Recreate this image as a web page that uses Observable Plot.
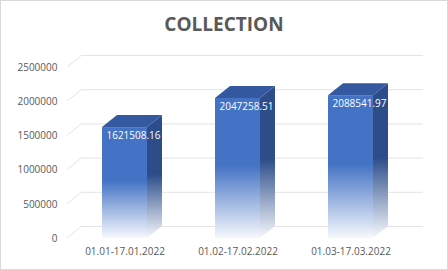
<!DOCTYPE html>
<html>
<head>
<meta charset="utf-8">
<script src="https://cdn.jsdelivr.net/npm/d3@7"></script>
<script src="https://cdn.jsdelivr.net/npm/@observablehq/plot@0.6"></script>
<style>
  html, body { margin: 0; padding: 0; background: #fff; }
  #chart { position: relative; width: 448px; height: 270px; overflow: hidden; font-family: "Open Sans", sans-serif; }
  #chart svg { position: absolute; left: 0; top: 0; }
  #title { position: absolute; left: 0; right: 0; top: 10px; text-align: center; font-size: 19px; font-weight: 700; color: #595959; line-height: 28px; }
  #frame { position: absolute; inset: 0; border: 1px solid #d9d9d9; pointer-events: none; }
</style>
</head>
<body>
<div id="chart">
  <div id="title">COLLECTION</div>
  <div id="frame"></div>
</div>
<script>
// Collection totals per reporting period
const periods = ["01.01-17.01.2022", "01.02-17.02.2022", "01.03-17.03.2022"];
const collected = [1621508.16, 2047258.51, 2088541.97];
const yTicks = [0, 500000, 1000000, 1500000, 2000000, 2500000];

const rows = periods.map((period, i) => ({period, value: collected[i]}));

// Pseudo-3D depth offset of the back wall and of the bar sides
const depth = {dx: 15, dy: -12};
const gridColor = "#e4e4e4";
const frontColor = "#4472c4";
const sideColor = "#2c4d8a";
const topColor = "#3559a0";

// Gradients: bars fade to white toward the floor
function gradients() {
  const defs = d3.create("svg:defs");
  const mk = (id, color) => {
    const g = defs.append("linearGradient").attr("id", id)
      .attr("x1", 0).attr("y1", 0).attr("x2", 0).attr("y2", 1);
    g.append("stop").attr("offset", "0%").attr("stop-color", color);
    g.append("stop").attr("offset", "48%").attr("stop-color", color);
    g.append("stop").attr("offset", "100%").attr("stop-color", "#f6f8fd");
  };
  mk("frontFade", frontColor);
  mk("sideFade", sideColor);
  return defs.node();
}

// Short diagonal links from the front axis to the back wall
function wallStubs(index, scales, values, dims) {
  const g = d3.create("svg:g");
  g.selectAll("line").data(index).join("line")
    .attr("x1", dims.marginLeft)
    .attr("x2", dims.marginLeft + depth.dx)
    .attr("y1", i => values.y[i])
    .attr("y2", i => values.y[i] + depth.dy)
    .attr("stroke", gridColor);
  return g.node();
}

// Adds a side face and a top face behind each front rect
function extrude(index, scales, values, dims, context, next) {
  const g = next(index, scales, values, dims, context);
  const faces = d3.create("svg:g");
  for (const r of Array.from(g.querySelectorAll("rect"))) {
    const x = +r.getAttribute("x"), y = +r.getAttribute("y");
    const w = +r.getAttribute("width"), h = +r.getAttribute("height");
    faces.append("path")
      .attr("d", `M${x + w},${y}L${x + w + depth.dx},${y + depth.dy}L${x + w + depth.dx},${y + h + depth.dy}L${x + w},${y + h}Z`)
      .attr("fill", "url(#sideFade)");
    faces.append("path")
      .attr("d", `M${x},${y}L${x + depth.dx},${y + depth.dy}L${x + w + depth.dx},${y + depth.dy}L${x + w},${y}Z`)
      .attr("fill", topColor);
  }
  g.insertBefore(faces.node(), g.firstChild);
  return g;
}

const chart = Plot.plot({
  width: 448,
  height: 270,
  marginLeft: 67,
  marginRight: 40,
  marginTop: 67,
  marginBottom: 32,
  style: {fontFamily: "Open Sans, sans-serif", fontSize: "10px", color: "#595959", background: "transparent"},
  x: {domain: periods, paddingInner: 0.6, paddingOuter: 0.3},
  y: {domain: [0, 2500000]},
  marks: [
    gradients,
    Plot.ruleY(yTicks, {stroke: gridColor, dx: depth.dx, dy: depth.dy}),
    Plot.ruleY(yTicks, {render: wallStubs}),
    Plot.barY(rows, {x: "period", y: "value", fill: "url(#frontFade)", render: extrude}),
    Plot.text(rows, {x: "period", y: "value", text: d => d.value.toFixed(2), fill: "white", fontSize: 10, dx: 8.5, dy: 8}),
    Plot.axisY(yTicks, {tickSize: 0, tickPadding: 10, tickFormat: d => String(d), label: null}),
    Plot.axisX({tickSize: 0, tickPadding: 9, label: null})
  ]
});

document.getElementById("chart").insertBefore(chart, document.getElementById("title"));
</script>
</body>
</html>
